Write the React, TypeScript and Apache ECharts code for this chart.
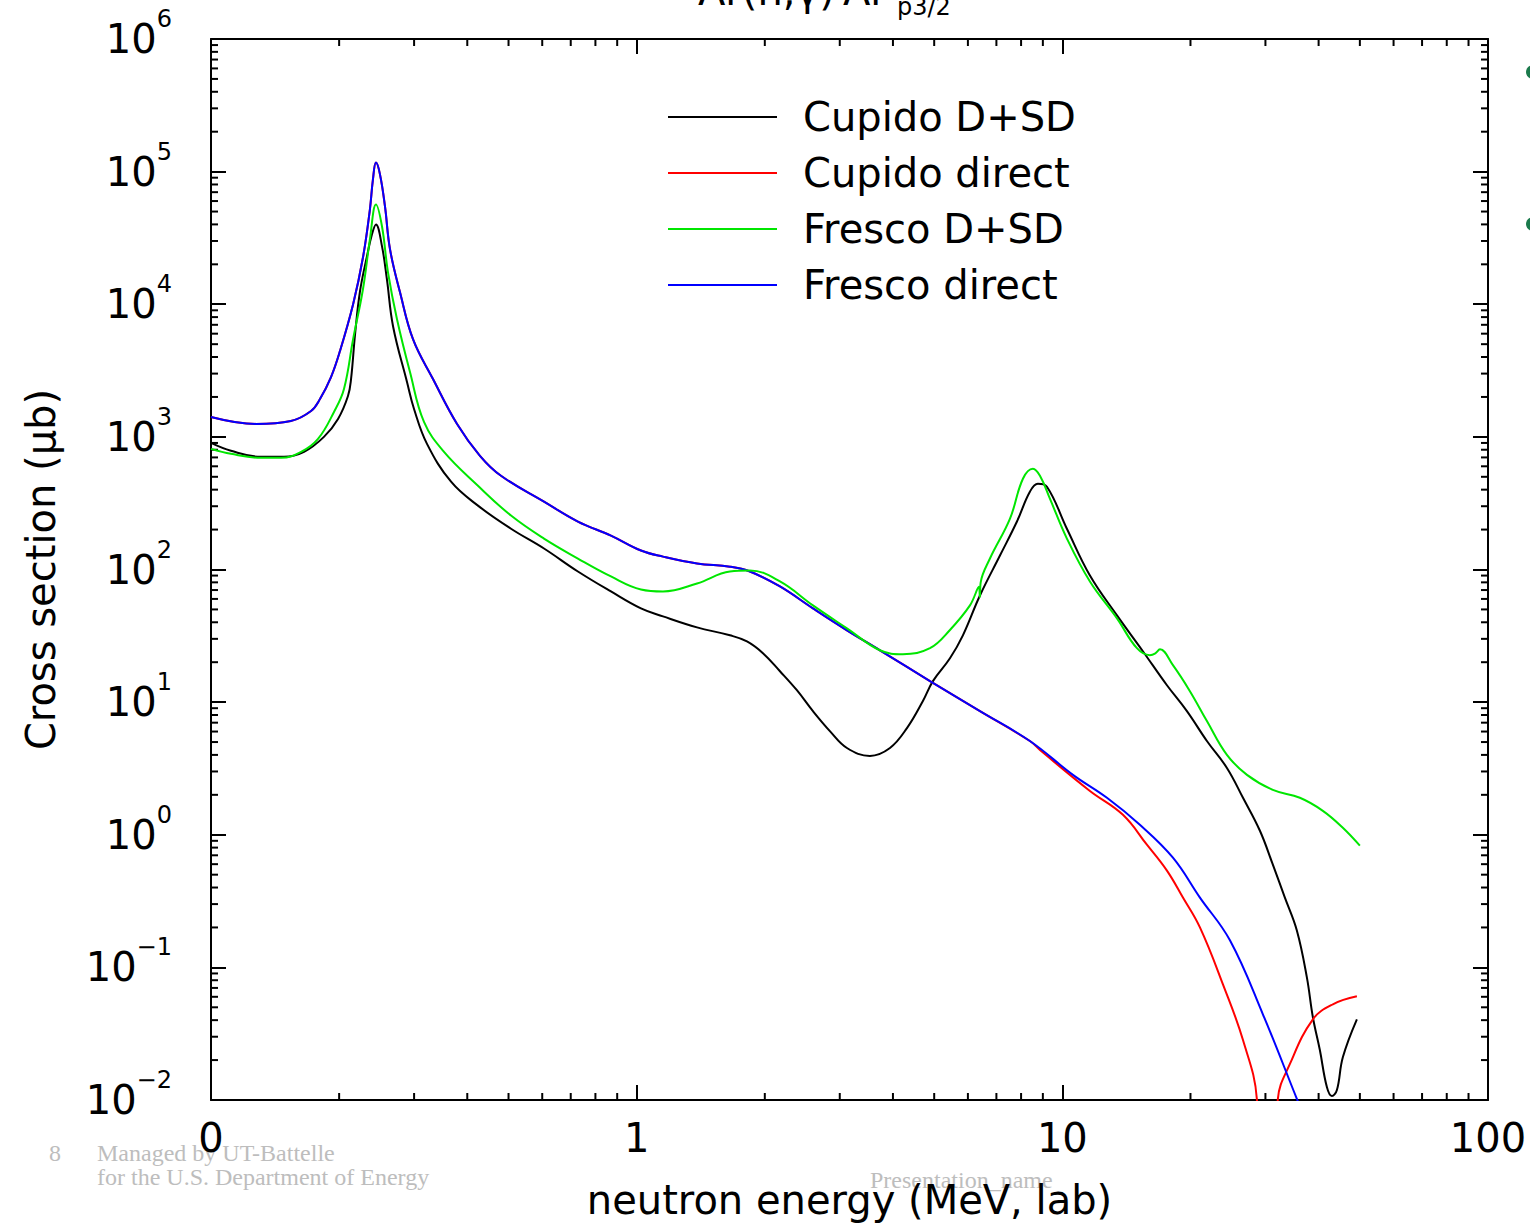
import React, { useEffect, useRef } from 'react';
import * as echarts from 'echarts';

const FONT = '"DejaVu Sans", sans-serif';
const SERIF = '"Liberation Serif", "DejaVu Serif", serif';

const seriesNames = ['Cupido D+SD', 'Cupido direct', 'Fresco D+SD', 'Fresco direct'];
const seriesColors = ['#000000', '#ff0000', '#00e600', '#0000ff'];

const xTickLabels = ['0', '1', '10', '100'];
const X_MIN = 0.1;
const X_MAX = 100;
const Y_MIN = 0.01;
const Y_MAX = 1e6;

// Cupido D+SD (black)
const cupidoFullE = [0.1, 0.1114, 0.131, 0.1484, 0.1654, 0.1842, 0.1988, 0.2098, 0.2133, 0.218, 0.2239, 0.2325, 0.2388, 0.2441, 0.2522, 0.259, 0.2677, 0.2887, 0.2999, 0.3217, 0.3664, 0.4238, 0.5068, 0.6057, 0.7277, 0.8701, 1.0235, 1.153, 1.386, 1.656, 1.816, 1.98, 2.171, 2.379, 2.595, 2.844, 3.119, 3.532, 3.936, 4.315, 4.704, 4.966, 5.445, 5.84, 6.404, 7.136, 7.823, 8.39, 8.76, 9.2, 10.25, 11.61, 13.44, 15.46, 17.61, 19.62, 21.86, 24.36, 26.57, 29.12, 31.23, 33.33, 35.56, 37.54, 38.78, 40.27, 41.83, 42.98, 44.16, 45.6, 49.2];
const cupidoFullS = [900, 785, 707, 707, 771, 1000, 1366, 2034, 2730, 5950, 12530, 23000, 33600, 39950, 27300, 15400, 6831, 2591, 1624, 886, 459, 303, 203, 144, 96.6, 68.3, 50.9, 44.3, 36.6, 31.9, 28.7, 23.4, 17.1, 12.3, 8.55, 6.05, 4.51, 3.93, 4.51, 6.37, 10.2, 14.4, 21.4, 31.9, 63.7, 127.4, 230, 386, 443, 421, 203, 90.1, 45.1, 24.2, 13.4, 8.55, 5.09, 3.19, 1.9, 1.072, 0.595, 0.336, 0.19, 0.0841, 0.0421, 0.0238, 0.01252, 0.01072, 0.01189, 0.021, 0.0406];

// Cupido direct (red)
const cupidoDirectE = [0.1, 0.1276, 0.154, 0.1718, 0.1803, 0.1914, 0.2009, 0.2157, 0.2275, 0.2362, 0.2401, 0.2441, 0.2495, 0.2563, 0.2634, 0.278, 0.2982, 0.3323, 0.3785, 0.4284, 0.48, 0.6057, 0.7277, 0.8701, 1.0235, 1.153, 1.386, 1.656, 1.845, 2.171, 2.595, 3.119, 3.728, 4.887, 6.404, 8.39, 8.86, 11.61, 13.88, 15.8, 17.61, 19.2, 21.05, 23.84, 26.57, 28.64, 30.2, 32.09, 34.25, 38.78, 43.21, 49.2];
const cupidoDirectS = [1414, 1253, 1319, 1569, 1930, 2825, 4436, 10000, 22500, 51800, 87000, 117000, 95000, 54600, 25900, 12300, 5456, 2730, 1250, 720, 509, 325, 230, 180, 139, 125, 111, 105, 96.6, 74.5, 50.9, 34.8, 24.6, 14.4, 8.55, 5.09, 4.36, 2.14, 1.414, 0.841, 0.536, 0.336, 0.2, 0.0745, 0.0283, 0.0102, 0.0001, 0.0102, 0.0187, 0.0406, 0.0527, 0.0605];

// Fresco D+SD (green)
const frescoFullE = [0.1, 0.1114, 0.131, 0.1461, 0.1628, 0.1784, 0.1945, 0.2053, 0.2157, 0.2275, 0.2362, 0.2441, 0.2522, 0.2605, 0.2735, 0.2934, 0.3165, 0.3527, 0.4238, 0.5068, 0.6057, 0.7277, 0.8701, 1.0235, 1.153, 1.386, 1.656, 1.845, 2.171, 2.595, 3.119, 3.728, 4.222, 4.887, 5.445, 6.067, 6.37, 6.4, 6.43, 6.76, 7.534, 8.08, 8.53, 8.86, 9.35, 10.25, 11.61, 13.44, 14.97, 16.06, 16.5, 16.96, 18.19, 19.94, 21.86, 24.36, 27.15, 31.23, 36.14, 40.93, 45.6, 50];
const frescoFullS = [812, 745, 695, 695, 771, 966, 1542, 2296, 5456, 12970, 30800, 56500, 38600, 17400, 7715, 3081, 1297, 771, 428, 255, 171, 121, 88.6, 70.7, 68.3, 78.5, 96.6, 98.3, 81.2, 53.6, 36.0, 24.6, 23.0, 25.5, 35.0, 53.6, 74, 62, 80, 121, 242, 483, 575, 509, 342, 171, 81.2, 42.8, 25.5, 22.6, 23.2, 25.0, 19.0, 12.1, 7.2, 4.0, 2.83, 2.18, 1.9, 1.515, 1.129, 0.827];

// Fresco direct (blue)
const frescoDirectE = [0.1, 0.1276, 0.154, 0.1718, 0.1803, 0.1914, 0.2009, 0.2157, 0.2275, 0.2362, 0.2401, 0.2441, 0.2495, 0.2563, 0.2634, 0.278, 0.2982, 0.3323, 0.3785, 0.4284, 0.48, 0.6057, 0.7277, 0.8701, 1.0235, 1.153, 1.386, 1.656, 1.845, 2.171, 2.595, 3.119, 3.728, 4.887, 6.404, 8.39, 10.59, 12.73, 15.21, 18.19, 21.05, 24.76, 29.59, 35.56, 40, 50];
const frescoDirectS = [1414, 1253, 1319, 1569, 1930, 2825, 4436, 10000, 22500, 51800, 87000, 117000, 95000, 54600, 25900, 12300, 5456, 2730, 1250, 720, 509, 325, 230, 180, 139, 125, 111, 105, 96.6, 74.5, 50.9, 34.8, 24.6, 14.4, 8.55, 5.09, 2.83, 1.9, 1.19, 0.672, 0.336, 0.16, 0.0443, 0.0102, 0.004, 0.0008];

const pairs = (E: number[], S: number[]) => E.map((e, i) => [e, S[i]]);

function App() {
  const ref = useRef<HTMLDivElement>(null);
  useEffect(() => {
    document.body.style.margin = '0';
    if (!ref.current) return;
    const chart = echarts.init(ref.current, undefined, { renderer: 'svg' });

    const minorX: number[] = [];
    for (let d = -1; d < 2; d++) for (let k = 2; k <= 9; k++) minorX.push(k * Math.pow(10, d));
    const minorY: number[] = [];
    for (let d = -2; d < 6; d++) for (let k = 2; k <= 9; k++) minorY.push(k * Math.pow(10, d));
    const tickData = [
      ...minorX.map((v) => [v, 1, 0]),
      ...minorY.map((v) => [1, v, 1]),
    ];

    const axisLine = { show: true, lineStyle: { color: '#000', width: 2 } };
    const axisTick = { show: true, inside: true, length: 15, lineStyle: { color: '#000', width: 2 } };

    const yFormatter = (v: number) => {
      const e = Math.round(Math.log10(v));
      const s = e < 0 ? '\u2212' + -e : String(e);
      return '{b|10}{s|' + s + '}';
    };
    const xFormatter = (v: number) => {
      const e = Math.round(Math.log10(v));
      return xTickLabels[e + 1] ?? '';
    };

    const lineData = [
      { name: seriesNames[0], color: seriesColors[0], data: pairs(cupidoFullE, cupidoFullS) },
      { name: seriesNames[1], color: seriesColors[1], data: pairs(cupidoDirectE, cupidoDirectS) },
      { name: seriesNames[3], color: seriesColors[3], data: pairs(frescoDirectE, frescoDirectS) },
      { name: seriesNames[2], color: seriesColors[2], data: pairs(frescoFullE, frescoFullS) },
    ];

    const option: any = {
      animation: false,
      backgroundColor: '#ffffff',
      grid: { left: 211, right: 42, top: 39, bottom: 122, containLabel: false },
      legend: {
        orient: 'vertical',
        left: 668,
        top: 97,
        padding: 0,
        icon: 'rect',
        itemWidth: 109,
        itemHeight: 2,
        itemGap: 16,
        data: seriesNames,
        textStyle: { fontFamily: FONT, fontSize: 40, lineHeight: 40, color: '#000', padding: [0, 0, 0, 21] },
        selectedMode: false,
      },
      xAxis: [
        {
          type: 'log',
          logBase: 10,
          min: X_MIN,
          max: X_MAX,
          position: 'bottom',
          axisLine,
          axisTick,
          splitLine: { show: false },
          axisLabel: {
            formatter: xFormatter,
            fontFamily: FONT,
            fontSize: 40,
            color: '#000',
            margin: 18,
            showMinLabel: true,
            showMaxLabel: true,
          },
          name: 'neutron energy (MeV, lab)',
          nameLocation: 'middle',
          nameGap: 80,
          nameTextStyle: { fontFamily: FONT, fontSize: 40, color: '#000' },
        },
        {
          type: 'log',
          logBase: 10,
          min: X_MIN,
          max: X_MAX,
          position: 'top',
          axisLine,
          axisTick,
          splitLine: { show: false },
          axisLabel: { show: false },
        },
      ],
      yAxis: [
        {
          type: 'log',
          logBase: 10,
          min: Y_MIN,
          max: Y_MAX,
          position: 'left',
          axisLine,
          axisTick,
          splitLine: { show: false },
          axisLabel: {
            formatter: yFormatter,
            margin: 39,
            showMinLabel: true,
            showMaxLabel: true,
            rich: {
              b: { fontFamily: FONT, fontSize: 40, lineHeight: 44, color: '#000', verticalAlign: 'middle' },
              s: { fontFamily: FONT, fontSize: 24, lineHeight: 24, color: '#000', verticalAlign: 'middle', padding: [0, 0, 40, 0] },
            },
          },
          name: 'Cross section (\u03bcb)',
          nameLocation: 'middle',
          nameRotate: 90,
          nameGap: 150,
          nameTextStyle: { fontFamily: FONT, fontSize: 40, color: '#000' },
        },
        {
          type: 'log',
          logBase: 10,
          min: Y_MIN,
          max: Y_MAX,
          position: 'right',
          axisLine,
          axisTick,
          splitLine: { show: false },
          axisLabel: { show: false },
        },
      ],
      series: [
        ...lineData.map((s) => ({
          type: 'line',
          name: s.name,
          data: s.data,
          xAxisIndex: 0,
          yAxisIndex: 0,
          symbol: 'none',
          smooth: 0.4,
          clip: true,
          lineStyle: { color: s.color, width: 2 },
          itemStyle: { color: s.color },
          emphasis: { disabled: true },
        })),
        {
          type: 'custom',
          name: 'minorTicks',
          silent: true,
          xAxisIndex: 0,
          yAxisIndex: 0,
          data: tickData,
          renderItem: (params: any, api: any) => {
            const cs = params.coordSys;
            const kind = api.value(2);
            const pt = api.coord([api.value(0), api.value(1)]);
            const L = 7;
            const style = { stroke: '#000', lineWidth: 2 };
            if (kind === 0) {
              return {
                type: 'group',
                children: [
                  { type: 'line', shape: { x1: pt[0], y1: cs.y + cs.height, x2: pt[0], y2: cs.y + cs.height - L }, style },
                  { type: 'line', shape: { x1: pt[0], y1: cs.y, x2: pt[0], y2: cs.y + L }, style },
                ],
              };
            }
            return {
              type: 'group',
              children: [
                { type: 'line', shape: { x1: cs.x, y1: pt[1], x2: cs.x + L, y2: pt[1] }, style },
                { type: 'line', shape: { x1: cs.x + cs.width, y1: pt[1], x2: cs.x + cs.width - L, y2: pt[1] }, style },
              ],
            };
          },
        },
      ],
      graphic: [
        { type: 'text', x: 698, y: -9, style: { text: 'Ar(n,\u03b3)', fontFamily: FONT, fontSize: 40, fill: '#000', verticalAlign: 'middle' } },
        { type: 'text', x: 843, y: -9, style: { text: 'Ar', fontFamily: FONT, fontSize: 40, fill: '#000', verticalAlign: 'middle' } },
        { type: 'text', x: 897, y: 7, style: { text: 'p3/2', fontFamily: FONT, fontSize: 24, fill: '#000', verticalAlign: 'middle' } },
        { type: 'text', x: 49, y: 1153, z: -10, style: { text: '8', fontFamily: SERIF, fontSize: 24, fill: '#bdbdbd', verticalAlign: 'middle' } },
        { type: 'text', x: 97, y: 1153, z: -10, style: { text: 'Managed by UT-Battelle', fontFamily: SERIF, fontSize: 24, fill: '#bdbdbd', verticalAlign: 'middle' } },
        { type: 'text', x: 97, y: 1177, z: -10, style: { text: 'for the U.S. Department of Energy', fontFamily: SERIF, fontSize: 24, fill: '#bdbdbd', verticalAlign: 'middle' } },
        { type: 'text', x: 870, y: 1180, z: -10, style: { text: 'Presentation_name', fontFamily: SERIF, fontSize: 24, fill: '#bdbdbd', verticalAlign: 'middle' } },
        { type: 'circle', shape: { cx: 1533, cy: 72, r: 7 }, style: { fill: '#1b7a4c' } },
        { type: 'circle', shape: { cx: 1533, cy: 224, r: 7 }, style: { fill: '#1b7a4c' } },
      ],
    };
    chart.setOption(option);
    return () => chart.dispose();
  }, []);
  return <div ref={ref} style={{ width: 1530, height: 1225 }} />;
}

export default App;
